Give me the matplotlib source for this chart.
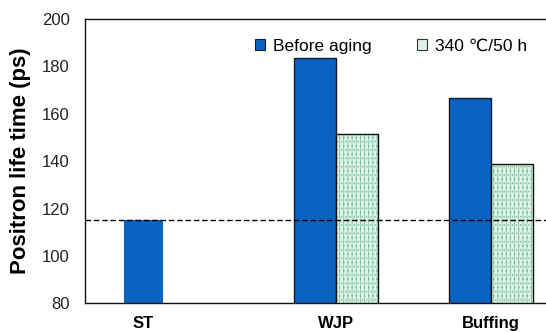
import numpy as np
import matplotlib.pyplot as plt
from matplotlib.patches import Patch

categories = ["ST", "WJP", "Buffing"]
before_aging = [115.0, 183.4, 166.6]
after_aging = [np.nan, 151.4, 139.0]
reference_level = 115.2
series_labels = ["Before aging", "340 \u2103/50 h"]
y_ticks = [80, 100, 120, 140, 160, 180, 200]

# layout (bar width = 1 unit)
group_x = np.array([1.39, 5.99, 9.68])
blue = "#0b63c1"
mint = "#e0f3e8"
dots = "#6fbf96"

plt.rcParams["font.family"] = ["Liberation Sans", "DejaVu Sans"]
plt.rcParams["hatch.linewidth"] = 0.5

fig = plt.figure(figsize=(5.46, 3.32), dpi=100)
ax = fig.add_axes([84.5 / 546, 1 - 303.3 / 332, (546 - 84.5) / 546, (303.3 - 19) / 332])

# ST has only one bar, centred; the others are pairs
blue_x = group_x.copy()
blue_x[1:] -= 0.5
green_x = group_x + 0.5

ax.bar(blue_x[:1], before_aging[:1], width=0.9, color=blue,
       edgecolor=blue, linewidth=0.8, zorder=2)
ax.bar(blue_x[1:], before_aging[1:], width=1.0, color=blue,
       edgecolor="#111a2a", linewidth=1.0, zorder=2)
ax.bar(green_x[1:], after_aging[1:], width=1.0, color=mint, edgecolor=dots,
       linewidth=0, hatch="||||....", zorder=2)
ax.bar(green_x[1:], after_aging[1:], width=1.0, fill=False,
       edgecolor="#111111", linewidth=1.0, zorder=3)

ax.axhline(reference_level, color="black", linestyle=(0, (4, 2)), linewidth=1.0, zorder=4)

ax.set_ylim(80, 200)
ax.set_xlim(0, (546 - 84.5) / 42)
ax.set_yticks(y_ticks)
ax.tick_params(axis="y", length=0, pad=10.5, labelsize=12, labelcolor="#222222")
ax.set_xticks(group_x)
ax.set_xticklabels(categories, fontsize=12, fontweight="bold")
ax.tick_params(axis="x", length=0, pad=9)
ax.set_ylabel("Positron life time (ps)", fontsize=16, fontweight="bold", labelpad=8)

for side in ["left", "bottom", "top"]:
    ax.spines[side].set_linewidth(1.0)
    ax.spines[side].set_color("#111111")
ax.spines["right"].set_visible(False)

handles = [
    Patch(facecolor=blue, edgecolor="#111a2a", linewidth=0.8),
    Patch(facecolor=mint, edgecolor="#333333", linewidth=0.8),
]
ax.legend(handles, series_labels, ncol=2, frameon=False, fontsize=12.5,
          loc="upper left", bbox_to_anchor=(0.335, 0.985),
          handlelength=0.6, handleheight=0.6, handletextpad=0.45, columnspacing=2.6)

fig.savefig("out.png", dpi=100)
